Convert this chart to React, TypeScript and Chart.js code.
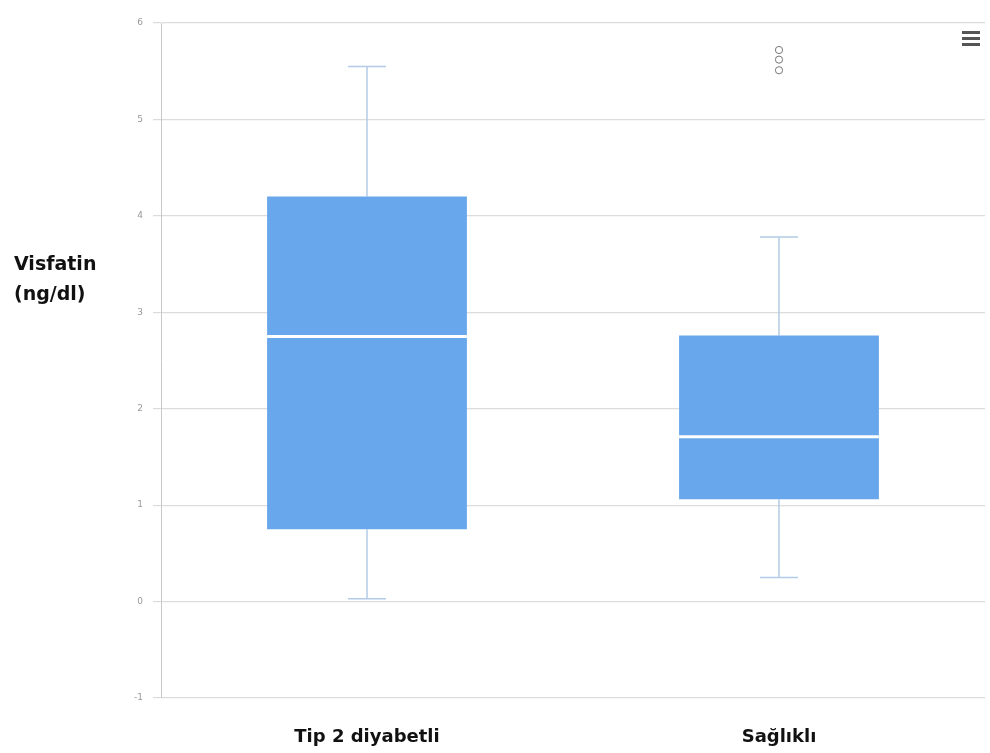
import React, { useEffect, useRef } from "react";
import { Chart, registerables } from "chart.js";
Chart.register(...registerables);

const categories = ["Tip 2 diyabetli", "Sağlıklı"];
const whiskerLow = [0.03, 0.25];
const q1 = [0.75, 1.06];
const median = [2.75, 1.71];
const q3 = [4.2, 2.76];
const whiskerHigh = [5.55, 3.78];
const outliers = [
  { x: "Sağlıklı", y: 5.72 },
  { x: "Sağlıklı", y: 5.62 },
  { x: "Sağlıklı", y: 5.51 },
];
const yTicks = [-1, 0, 1, 2, 3, 4, 5, 6];
const yTitle = ["Visfatin", "(ng/dl)"];

const BOX = "#68a7eb";
const FONT = "'DejaVu Sans', Verdana, sans-serif";

const boxPlugin = {
  id: "boxParts",
  beforeDatasetsDraw(chart: any) {
    const ctx = chart.ctx;
    const x = chart.scales.x;
    const y = chart.scales.y;
    ctx.save();
    ctx.strokeStyle = "#b3cbe6";
    ctx.lineWidth = 1.5;
    categories.forEach((c, i) => {
      const cx = x.getPixelForValue(i);
      const hi = y.getPixelForValue(whiskerHigh[i]);
      const lo = y.getPixelForValue(whiskerLow[i]);
      const top = y.getPixelForValue(q3[i]);
      const bot = y.getPixelForValue(q1[i]);
      ctx.beginPath();
      ctx.moveTo(cx, hi);
      ctx.lineTo(cx, top);
      ctx.moveTo(cx, bot);
      ctx.lineTo(cx, lo);
      ctx.moveTo(cx - 19, hi);
      ctx.lineTo(cx + 19, hi);
      ctx.moveTo(cx - 19, lo);
      ctx.lineTo(cx + 19, lo);
      ctx.stroke();
    });
    ctx.restore();
  },
  afterDatasetsDraw(chart: any) {
    const ctx = chart.ctx;
    const x = chart.scales.x;
    const y = chart.scales.y;
    const meta = chart.getDatasetMeta(0);
    ctx.save();
    ctx.strokeStyle = "#ffffff";
    ctx.lineWidth = 3;
    categories.forEach((c, i) => {
      const bar = meta.data[i];
      const half = bar.width / 2;
      const cx = x.getPixelForValue(i);
      const m = y.getPixelForValue(median[i]);
      ctx.beginPath();
      ctx.moveTo(cx - half, m);
      ctx.lineTo(cx + half, m);
      ctx.stroke();
    });
    ctx.restore();
  },
  afterDraw(chart: any) {
    const ctx = chart.ctx;
    const y = chart.scales.y;
    ctx.save();
    ctx.fillStyle = "#111";
    ctx.font = "bold 19px " + FONT;
    ctx.textAlign = "left";
    ctx.textBaseline = "middle";
    const mid = y.getPixelForValue(3.33);
    ctx.fillText(yTitle[0], 14, mid - 15);
    ctx.fillText(yTitle[1], 14, mid + 15);
    // menu icon
    ctx.fillStyle = "#555";
    [31, 37, 43].forEach((yy) => {
      ctx.fillRect(962, yy, 18, 3);
    });
    ctx.restore();
  },
};

export default function App() {
  const ref = useRef<HTMLCanvasElement>(null);
  useEffect(() => {
    if (!ref.current) return;
    const chart = new Chart(ref.current, {
      type: "bar",
      data: {
        labels: categories,
        datasets: [
          {
            type: "bar",
            data: categories.map((_, i) => [q1[i], q3[i]]) as any,
            backgroundColor: BOX,
            borderWidth: 0,
            barPercentage: 0.97,
            categoryPercentage: 0.5,
            order: 2,
          } as any,
          {
            type: "line",
            data: outliers as any,
            showLine: false,
            pointRadius: 3.6,
            pointBackgroundColor: "#ffffff",
            pointBorderColor: "#777",
            pointBorderWidth: 1,
            order: 1,
          } as any,
        ],
      },
      options: {
        animation: false,
        responsive: false,
        plugins: { legend: { display: false }, tooltip: { enabled: false } },
        layout: { padding: { top: 23, right: 5, left: 0, bottom: 0 } },
        scales: {
          x: {
            grid: { display: false },
            border: { display: false },
            afterFit: (s: any) => {
              s.height = 55;
            },
            ticks: {
              color: "#111",
              font: { family: FONT, size: 18, weight: "bold" },
              padding: 21,
            },
          },
          y: {
            min: -1,
            max: 6,
            afterBuildTicks: (s: any) => {
              s.ticks = yTicks.map((v) => ({ value: v }));
            },
            afterFit: (s: any) => {
              s.width = 161;
            },
            grid: { color: "#dcdcdc", tickLength: 8, lineWidth: 1.2 },
            border: { display: true, color: "#c8c8c8" },
            ticks: {
              color: "#999",
              font: { family: FONT, size: 9 },
              padding: 10,
            },
          },
        },
      },
      plugins: [boxPlugin],
    });
    return () => chart.destroy();
  }, []);
  return (
    <div style={{ position: "absolute", left: 0, top: 0, width: 990, height: 753, background: "#fff" }}>
      <canvas ref={ref} width={990} height={753} />
    </div>
  );
}
